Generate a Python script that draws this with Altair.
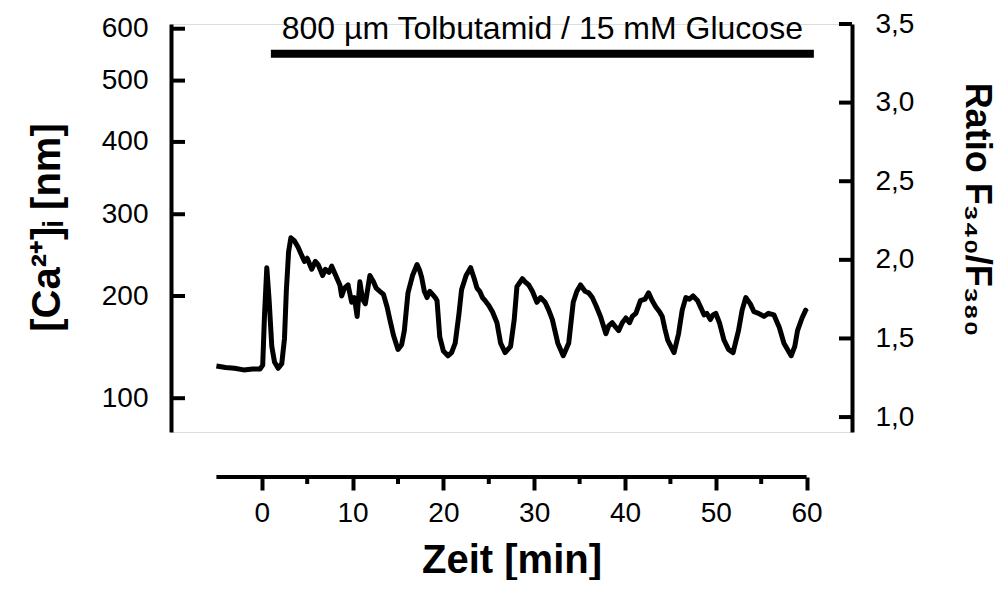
import altair as alt
import pandas as pd

# ---- data ----
time_min = [-5.0, -4.0, -3.0, -2.0, -1.0, -0.2, 0.1, 0.3, 0.55, 0.8, 1.1, 1.4, 1.8, 2.2, 2.5, 2.7,
            2.95, 3.2, 3.6, 4.0, 4.3, 4.7, 5.0, 5.5, 5.9, 6.2, 6.7, 7.0, 7.4, 7.7, 8.0, 8.3, 8.6,
            8.8, 9.1, 9.5, 9.9, 10.2, 10.5, 10.8, 11.1, 11.4, 11.9, 12.3, 12.6, 13.0, 13.4, 13.8,
            14.1, 14.5, 15.0, 15.4, 15.7, 16.1, 16.6, 17.1, 17.4, 17.6, 17.9, 18.2, 18.5, 18.8,
            19.1, 19.3, 19.6, 20.0, 20.5, 20.9, 21.3, 21.7, 22.0, 22.5, 23.0, 23.4, 23.7, 24.0,
            24.3, 24.6, 25.0, 25.4, 25.9, 26.3, 26.8, 27.4, 27.8, 28.1, 28.7, 29.0, 29.4, 29.8,
            30.3, 30.7, 31.2, 31.6, 32.0, 32.6, 33.2, 33.8, 34.3, 34.7, 35.1, 35.6, 36.0, 36.4,
            36.8, 37.3, 37.9, 38.2, 38.6, 39.0, 39.3, 39.7, 40.1, 40.5, 40.8, 41.2, 41.7, 42.2,
            42.6, 43.0, 43.4, 43.8, 44.1, 44.4, 44.7, 45.4, 45.9, 46.3, 46.7, 47.1, 47.5, 48.0,
            48.4, 48.7, 49.0, 49.4, 49.7, 50.0, 50.4, 50.9, 51.4, 51.9, 52.5, 52.9, 53.3, 53.8,
            54.2, 54.7, 55.3, 55.8, 56.4, 56.7, 57.0, 57.5, 58.3, 58.7, 59.0, 59.5, 59.9, 60.0]
ratio = [1.325, 1.315, 1.31, 1.30, 1.305, 1.305, 1.33, 1.65, 1.95, 1.75, 1.45, 1.35, 1.31, 1.34,
         1.50, 1.80, 2.05, 2.14, 2.12, 2.08, 2.04, 1.99, 2.01, 1.94, 1.99, 1.97, 1.90, 1.94, 1.92,
         1.96, 1.92, 1.88, 1.84, 1.77, 1.82, 1.84, 1.73, 1.76, 1.64, 1.86, 1.75, 1.72, 1.90, 1.86,
         1.82, 1.80, 1.78, 1.70, 1.62, 1.52, 1.43, 1.46, 1.55, 1.79, 1.90, 1.97, 1.93, 1.89, 1.80,
         1.76, 1.80, 1.78, 1.76, 1.74, 1.51, 1.42, 1.39, 1.41, 1.47, 1.65, 1.81, 1.90, 1.95, 1.88,
         1.82, 1.80, 1.76, 1.74, 1.71, 1.67, 1.60, 1.47, 1.41, 1.45, 1.62, 1.83, 1.88, 1.86, 1.84,
         1.80, 1.73, 1.76, 1.73, 1.68, 1.62, 1.47, 1.39, 1.47, 1.73, 1.80, 1.84, 1.80, 1.79, 1.76,
         1.71, 1.64, 1.53, 1.58, 1.60, 1.57, 1.55, 1.60, 1.63, 1.60, 1.64, 1.66, 1.74, 1.75, 1.79,
         1.74, 1.70, 1.67, 1.64, 1.56, 1.49, 1.41, 1.53, 1.68, 1.76, 1.75, 1.77, 1.74, 1.69, 1.65,
         1.66, 1.62, 1.65, 1.66, 1.60, 1.49, 1.43, 1.41, 1.55, 1.68, 1.76, 1.72, 1.67, 1.66, 1.64,
         1.66, 1.65, 1.61, 1.57, 1.47, 1.39, 1.45, 1.55, 1.63, 1.68, 1.67]

ca_tick_ratio = [3.47, 3.14, 2.75, 2.29, 1.77, 1.12]
ca_tick_labels = ["600", "500", "400", "300", "200", "100"]
ratio_ticks = [1.0, 1.5, 2.0, 2.5, 3.0, 3.5]
x_major = [0, 10, 20, 30, 40, 50, 60]
x_minor = [5, 15, 25, 35, 45, 55]
x_axis_span = [-5, 60]
bar_span = [1.0, 60.8]
bar_level = [3.31]
bar_label_level = [3.405]
bar_label = "800 µm Tolbutamid / 15 mM Glucose"

# ---- layout ----
W, H = 681, 408
X_DOMAIN = [-10, 65]
Y_DOMAIN = [0.905, 3.5]
FONT = "Liberation Sans"
X_OFFSET = 45
TICK_FS = 28
TITLE_FS = 36

line_df = pd.DataFrame({"t": time_min, "r": ratio})
left_ticks_df = pd.DataFrame({"r": ca_tick_ratio, "lab": ca_tick_labels})
right_ticks_df = pd.DataFrame({"r": ratio_ticks})
bar_df = pd.DataFrame({"t": [bar_span[0]], "t2": [bar_span[1]], "r": bar_level})
text_df = pd.DataFrame({"t": [(bar_span[0] + bar_span[1]) / 2], "r": bar_label_level, "txt": [bar_label]})
xdom_df = pd.DataFrame({"t": [x_axis_span[0]], "t2": [x_axis_span[1]]})
xminor_df = pd.DataFrame({"t": x_minor})

expr = "''"
for v, lab in reversed(list(zip(ca_tick_ratio, ca_tick_labels))):
    expr = f"abs(datum.value - {v}) < 0.001 ? '{lab}' : ({expr})"

yscale_l = alt.Scale(domain=Y_DOMAIN, nice=False, zero=False)
yscale_r = alt.Scale(domain=Y_DOMAIN, nice=False, zero=False)
xscale = alt.Scale(domain=X_DOMAIN, nice=False, zero=False)

left_axis = alt.Axis(orient="left", values=ca_tick_ratio, labelExpr=expr, ticks=False, grid=False,
                     domainColor="black", domainWidth=4, labelFontSize=TICK_FS, labelColor="black",
                     labelPadding=23, labelFont=FONT,
                     title="[Ca²⁺]ᵢ [nm]", titleFont=FONT, titleFontSize=40, titleFontWeight="bold",
                     titleColor="black", titleX=-112, titleY=203, titleAngle=270,
                     titleAlign="center", titleBaseline="alphabetic")
right_axis = alt.Axis(orient="right", values=ratio_ticks,
                      labelExpr="replace(format(datum.value, '.1f'), '.', ',')",
                      ticks=False, grid=False, domainColor="black", domainWidth=4,
                      labelFontSize=TICK_FS, labelColor="black", labelPadding=23, labelFont=FONT,
                      title="Ratio F₃₄₀/F₃₈₀", titleFont=FONT, titleFontSize=TITLE_FS, titleFontWeight="bold",
                      titleColor="black", titleX=113, titleY=185, titleAngle=90,
                      titleAlign="center", titleBaseline="alphabetic")
x_axis = alt.Axis(values=x_major, offset=X_OFFSET, domain=False, grid=False, tickSize=13, tickWidth=4,
                  tickColor="black", labelFontSize=TICK_FS, labelColor="black", labelPadding=9, labelFont=FONT,
                  title="Zeit [min]", titleFont=FONT, titleFontSize=40, titleFontWeight="bold",
                  titleColor="black", titleY=95, titleBaseline="alphabetic")

X = lambda f: alt.X(f"{f}:Q", scale=xscale, axis=x_axis)
YR = lambda: alt.Y("r:Q", scale=yscale_r, axis=right_axis)

left = alt.Chart(left_ticks_df).mark_rule(color="black", strokeWidth=4).encode(
    y=alt.Y("r:Q", scale=yscale_l, axis=left_axis),
    x=alt.value(0), x2=alt.value(14))

line = alt.Chart(line_df).mark_line(color="black", strokeWidth=5, strokeJoin="round").encode(
    x=X("t"), y=YR())
rticks = alt.Chart(right_ticks_df).mark_rule(color="black", strokeWidth=4).encode(
    y=YR(), x=alt.value(W - 13), x2=alt.value(W))
bar = alt.Chart(bar_df).mark_rule(color="black", strokeWidth=8).encode(
    x=X("t"), x2="t2:Q", y=YR())
text = alt.Chart(text_df).mark_text(font=FONT, fontSize=32, color="black", align="center",
                                    baseline="alphabetic").encode(x=X("t"), y=YR(), text="txt:N")
xdom = alt.Chart(xdom_df).mark_rule(color="black", strokeWidth=4).encode(
    x=X("t"), x2="t2:Q", y=alt.value(H + X_OFFSET))
xminor = alt.Chart(xminor_df).mark_rule(color="black", strokeWidth=4).encode(
    x=X("t"), y=alt.value(H + X_OFFSET), y2=alt.value(H + X_OFFSET + 7))

right = alt.layer(line, rticks, bar, text, xdom, xminor)

chart = alt.layer(left, right).resolve_scale(y="independent").properties(
    width=W, height=H,
    autosize=alt.AutoSizeParams(type="none"),
    padding={"left": 163, "top": 16, "right": 145, "bottom": 148},
).configure_view(stroke=None).configure(font=FONT, background="white")

chart.save("out.html", embed_options={"renderer": "svg", "actions": False})
